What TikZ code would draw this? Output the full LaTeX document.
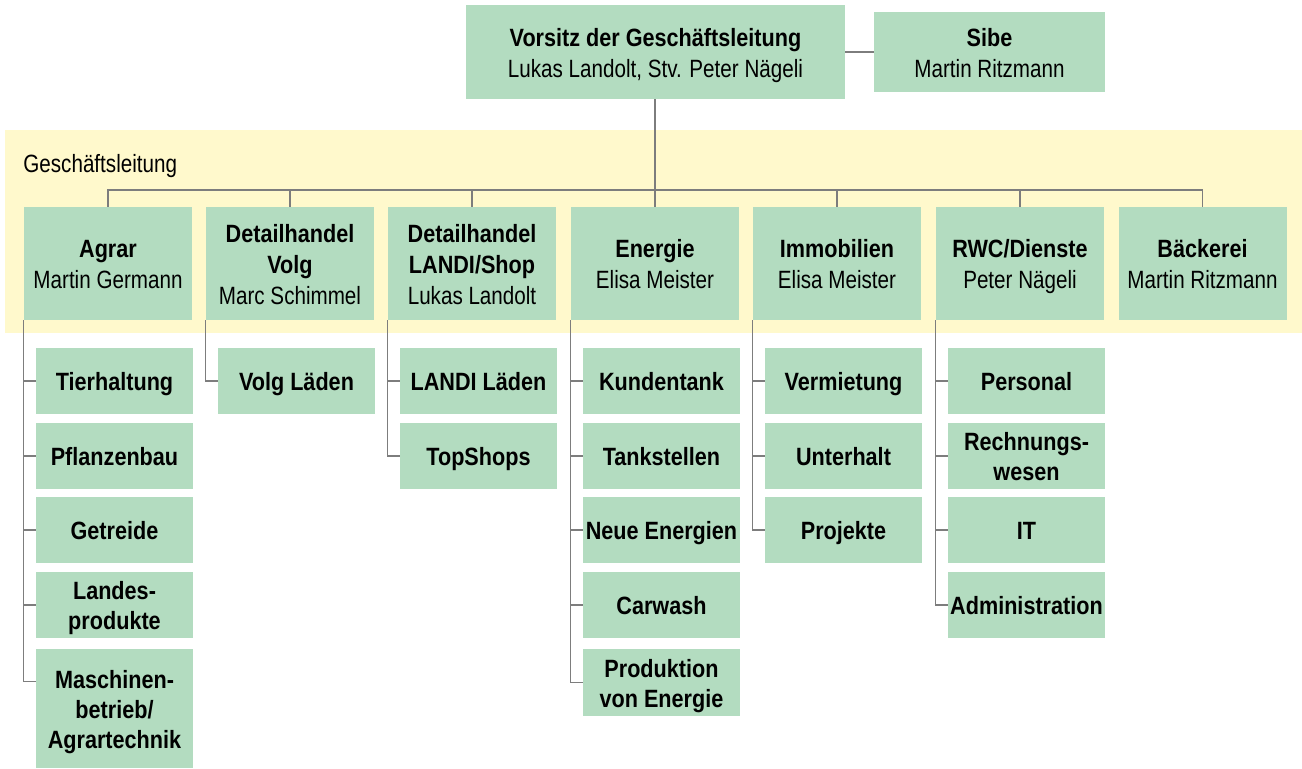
\documentclass[tikz,border=0pt]{standalone}
\usepackage{fontspec}
\setmainfont{Liberation Sans}[FakeStretch=0.825, BoldFeatures={FakeStretch=0.865}]
\usetikzlibrary{positioning}
\definecolor{boxGreen}{RGB}{179,220,192}
\definecolor{bandYellow}{RGB}{255,249,204}
\definecolor{lineGray}{RGB}{125,125,125}

\begin{document}
\begin{tikzpicture}[
    x=0.5pt, y=-0.5pt,
    every node/.style={font=\fontsize{12.5}{15.5}\selectfont},
    unit/.style={fill=boxGreen, align=flush center, inner sep=0pt,
      execute at begin node={\rule{0pt}{12.7pt}},
      execute at end node={\rule[-2.7pt]{0pt}{2.7pt}}},
    head/.style={unit, text width=189.5pt, minimum height=47pt},
    aside/.style={unit, text width=115.5pt, minimum height=40pt},
    dept/.style={unit, text width=84pt, minimum height=56.5pt},
    team/.style={unit, text width=78.5pt, minimum height=33pt, font=\fontsize{12.5}{15}\selectfont\bfseries},
    link/.style={draw=lineGray, line width=0.8pt},
    bandlabel/.style={anchor=base west, inner sep=0pt},
]
\useasboundingbox (0,0) rectangle (1302,769);
% band of the Geschaeftsleitung
\fill[bandYellow] (5,130) rectangle (1302,333);
\node[bandlabel] (gl) at (23,173) {Geschäftsleitung};
% top
\node[head] (chair) at (655.5,52) {\textbf{Vorsitz der Geschäftsleitung}\\Lukas Landolt, Stv. Peter Nägeli};
\node[aside] (sibe) at (989.5,52) {\textbf{Sibe}\\Martin Ritzmann};
\draw[link] (chair) -- (sibe);
% departments
\node[dept] (agrar) at (108,263.5) {\textbf{Agrar}\\Martin Germann};
\node[dept] (volg) at (290,263.5) {\textbf{Detailhandel}\\\textbf{Volg}\\Marc Schimmel};
\node[dept] (landi) at (472,263.5) {\textbf{Detailhandel}\\\textbf{LANDI/Shop}\\Lukas Landolt};
\node[dept] (energie) at (655,263.5) {\textbf{Energie}\\Elisa Meister};
\node[dept] (immo) at (837,263.5) {\textbf{Immobilien}\\Elisa Meister};
\node[dept] (rwc) at (1020,263.5) {\textbf{RWC/Dienste}\\Peter Nägeli};
\node[dept] (baeck) at (1202.5,263.5) {\textbf{Bäckerei}\\Martin Ritzmann};
\coordinate (bus) at (655,190);
\draw[link] (chair.south -| bus) -- (bus);
\draw[link] (agrar.north) -- (agrar.north |- bus) -- (baeck.north |- bus) -- (baeck.north);
\foreach \d in {volg, landi, energie, immo, rwc}
  \draw[link] (\d.north |- bus) -- (\d.north);
% Agrar
\node[team] (tier) at (114.5,381) {Tierhaltung};
\node[team] (pflanz) at (114.5,456) {Pflanzenbau};
\node[team] (getreide) at (114.5,530) {Getreide};
\node[team] (landes) at (114.5,605) {Landes-\\produkte};
\node[team, minimum height=59.5pt] (masch) at (114.5,708.5) {Maschinen-\\betrieb/\\Agrartechnik};
\draw[link] (agrar.south west) |- ([yshift=-16.5pt]masch.north west);
\foreach \t in {tier, pflanz, getreide, landes}
  \draw[link] (agrar.south west |- \t.west) -- (\t.west);
% Volg
\node[team] (vlaeden) at (296.5,381) {Volg Läden};
\draw[link] (volg.south west) |- (vlaeden.west);
% LANDI
\node[team] (llaeden) at (478.5,381) {LANDI Läden};
\node[team] (topshops) at (478.5,456) {TopShops};
\draw[link] (landi.south west) |- (topshops.west);
\draw[link] (landi.south west |- llaeden.west) -- (llaeden.west);
% Energie
\node[team] (kunden) at (661.5,381) {Kundentank};
\node[team] (tank) at (661.5,456) {Tankstellen};
\node[team] (neue) at (661.5,530) {Neue Energien};
\node[team] (carwash) at (661.5,605) {Carwash};
\node[team, minimum height=33.5pt] (prod) at (661.5,682.5) {Produktion\\von Energie};
\draw[link] (energie.south west) |- (prod.west);
\foreach \t in {kunden, tank, neue, carwash}
  \draw[link] (energie.south west |- \t.west) -- (\t.west);
% Immobilien
\node[team] (verm) at (843.5,381) {Vermietung};
\node[team] (unter) at (843.5,456) {Unterhalt};
\node[team] (proj) at (843.5,530) {Projekte};
\draw[link] (immo.south west) |- (proj.west);
\foreach \t in {verm, unter}
  \draw[link] (immo.south west |- \t.west) -- (\t.west);
% RWC/Dienste
\node[team] (pers) at (1026.5,381) {Personal};
\node[team] (rech) at (1026.5,456) {Rechnungs-\\wesen};
\node[team] (it) at (1026.5,530) {IT};
\node[team] (admin) at (1026.5,605) {Administration};
\draw[link] (rwc.south west) |- (admin.west);
\foreach \t in {pers, rech, it}
  \draw[link] (rwc.south west |- \t.west) -- (\t.west);
\end{tikzpicture}
\end{document}
